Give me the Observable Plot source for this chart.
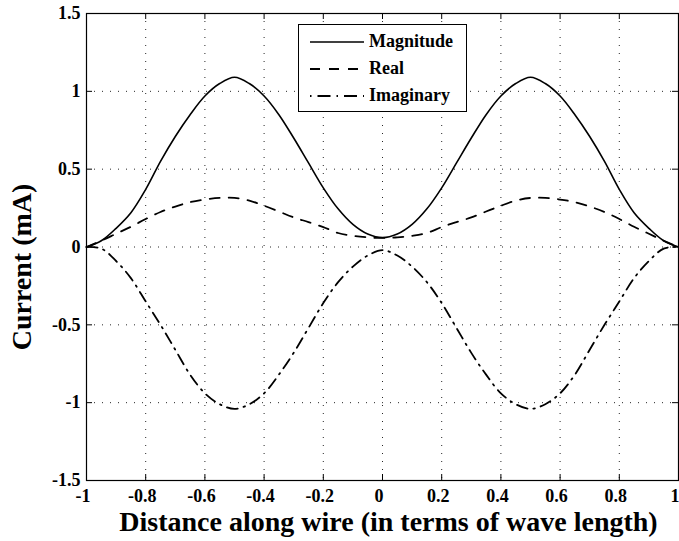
<!DOCTYPE html>
<html>
<head>
<meta charset="utf-8">
<script src="https://cdn.jsdelivr.net/npm/d3@7"></script>
<script src="https://cdn.jsdelivr.net/npm/@observablehq/plot@0.6"></script>
<style>
  html, body { margin: 0; padding: 0; background: #fff; }
  #wrap { position: relative; width: 679px; height: 541px; }
  #legend {
    position: absolute; left: 298px; top: 24px; width: 169px; height: 88px;
    box-sizing: border-box; border: 1px solid #000; background: #fff;
    font-family: "Liberation Serif", "Times New Roman", serif; font-weight: bold; font-size: 18px;
  }
  .row { position: absolute; left: 0; height: 20px; width: 100%; }
  .row svg { position: absolute; left: 11px; top: 0; }
  .row span { position: absolute; left: 70px; top: -1px; line-height: 20px; white-space: nowrap; }
</style>
</head>
<body>
<div id="wrap"><div id="chart"></div><div id="legend"></div></div>
<script>
// ---- data ----
const xValues = [-1, -0.95, -0.9, -0.85, -0.8, -0.75, -0.7, -0.65, -0.6, -0.55, -0.5, -0.45, -0.4, -0.35, -0.3, -0.25, -0.2, -0.15, -0.1, -0.05, 0,
                 0.05, 0.1, 0.15, 0.2, 0.25, 0.3, 0.35, 0.4, 0.45, 0.5, 0.55, 0.6, 0.65, 0.7, 0.75, 0.8, 0.85, 0.9, 0.95, 1];
const magnitude = [0, 0.04, 0.12, 0.22, 0.37, 0.55, 0.71, 0.85, 0.97, 1.05, 1.09, 1.05, 0.97, 0.85, 0.70, 0.54, 0.38, 0.245, 0.145, 0.083, 0.06,
                   0.083, 0.145, 0.245, 0.38, 0.54, 0.70, 0.85, 0.97, 1.05, 1.09, 1.05, 0.97, 0.85, 0.71, 0.55, 0.37, 0.22, 0.12, 0.04, 0];
const realPart = [0, 0.04, 0.085, 0.13, 0.18, 0.225, 0.26, 0.288, 0.305, 0.315, 0.315, 0.298, 0.265, 0.228, 0.19, 0.16, 0.128, 0.09, 0.072, 0.062, 0.058,
                  0.062, 0.072, 0.09, 0.128, 0.16, 0.19, 0.228, 0.265, 0.298, 0.315, 0.315, 0.305, 0.288, 0.26, 0.225, 0.18, 0.13, 0.085, 0.04, 0];
const imagPart = [0, -0.01, -0.09, -0.2, -0.35, -0.5, -0.66, -0.82, -0.94, -1.01, -1.04, -1.01, -0.94, -0.82, -0.68, -0.52, -0.36, -0.226, -0.126, -0.055, -0.02,
                  -0.055, -0.126, -0.226, -0.36, -0.52, -0.68, -0.82, -0.94, -1.01, -1.04, -1.01, -0.94, -0.82, -0.66, -0.5, -0.35, -0.2, -0.09, -0.01, 0];
const seriesNames = ["Magnitude", "Real", "Imaginary"];
const seriesDash = ["none", "10,9", "11,6,1.5,6"];
const legendDash = ["none", "10,9", "1.5,6,13,6"];
const xTicks = [-1, -0.8, -0.6, -0.4, -0.2, 0, 0.2, 0.4, 0.6, 0.8, 1];
const xTickLabels = ["-1", "-0.8", "-0.6", "-0.4", "-0.2", "0", "0.2", "0.4", "0.6", "0.8", "1"];
const yTicks = [-1.5, -1, -0.5, 0, 0.5, 1, 1.5];
const yTickLabels = ["-1.5", "-1", "-0.5", "0", "0.5", "1", "1.5"];
const xTitle = "Distance along wire (in terms of wave length)";
const yTitle = "Current (mA)";

// ---- build table ----
const seriesValues = [magnitude, realPart, imagPart];
const rows = [];
seriesNames.forEach((name, s) => {
  xValues.forEach((x, i) => rows.push({series: name, x, value: seriesValues[s][i]}));
});

const W = 679, H = 541;
const mL = 86, mR = 1, mT = 13, mB = 61;
const innerW = W - mL - mR, innerH = H - mT - mB;
const tickLen = 6;

const lineMarks = seriesNames.map((name, s) =>
  Plot.line(rows.filter(d => d.series === name), {
    x: "x", y: "value", curve: "catmull-rom",
    stroke: "#000", strokeWidth: s === 0 ? 1.6 : 1.8,
    strokeDasharray: seriesDash[s] === "none" ? null : seriesDash[s]
  })
);

const chart = Plot.plot({
  width: W, height: H,
  marginLeft: mL, marginRight: mR, marginTop: mT, marginBottom: mB,
  style: {fontFamily: "'Liberation Serif', 'Times New Roman', serif", fontSize: "18px", fontWeight: "bold", background: "#fff", color: "#000"},
  x: {domain: [-1, 1], axis: null},
  y: {domain: [-1.5, 1.5], ticks: yTicks, tickFormat: d => yTickLabels[yTicks.indexOf(d)], tickSize: 0, tickPadding: 6, label: null},
  marks: [
    Plot.gridX(xTicks, {stroke: "#000", strokeOpacity: 0.85, strokeDasharray: "1,7", strokeWidth: 1}),
    Plot.gridY(yTicks, {stroke: "#000", strokeOpacity: 0.85, strokeDasharray: "1,7", strokeWidth: 1}),
    ...lineMarks,
    Plot.tickX(xTicks, {x: d => d, stroke: "#000", insetTop: innerH - tickLen}),
    Plot.tickX(xTicks, {x: d => d, stroke: "#000", insetBottom: innerH - tickLen}),
    Plot.tickY(yTicks, {y: d => d, stroke: "#000", insetRight: innerW - tickLen}),
    Plot.tickY(yTicks, {y: d => d, stroke: "#000", insetLeft: innerW - tickLen}),
    Plot.frame({stroke: "#000", strokeWidth: 1.2}),
    Plot.text(xTicks, {x: d => d, text: (d, i) => xTickLabels[i], frameAnchor: "bottom", textAnchor: "middle", lineAnchor: "top", dy: 9, dx: -3.5, fontSize: 18, fontWeight: "bold"}),
    Plot.text([xTitle], {text: d => d, frameAnchor: "bottom", textAnchor: "middle", lineAnchor: "middle", dy: 42, dx: 6, fontSize: 28, fontWeight: "bold"}),
    Plot.text([yTitle], {text: d => d, frameAnchor: "left", textAnchor: "middle", lineAnchor: "middle", dx: -64, dy: 20, rotate: -90, fontSize: 28, fontWeight: "bold"})
  ]
});
document.getElementById("chart").appendChild(chart);

// ---- legend ----
const legend = document.getElementById("legend");
const rowTops = [7, 34, 61];
seriesNames.forEach((name, s) => {
  const row = document.createElement("div");
  row.className = "row";
  row.style.top = rowTops[s] + "px";
  const dash = legendDash[s] === "none" ? "" : ` stroke-dasharray="${legendDash[s]}"`;
  row.innerHTML = `<svg width="54" height="20"><line x1="0" x2="54" y1="10" y2="10" stroke="#000" stroke-width="${s === 0 ? 1.6 : 2}"${dash}/></svg><span>${name}</span>`;
  legend.appendChild(row);
});
</script>
</body>
</html>
